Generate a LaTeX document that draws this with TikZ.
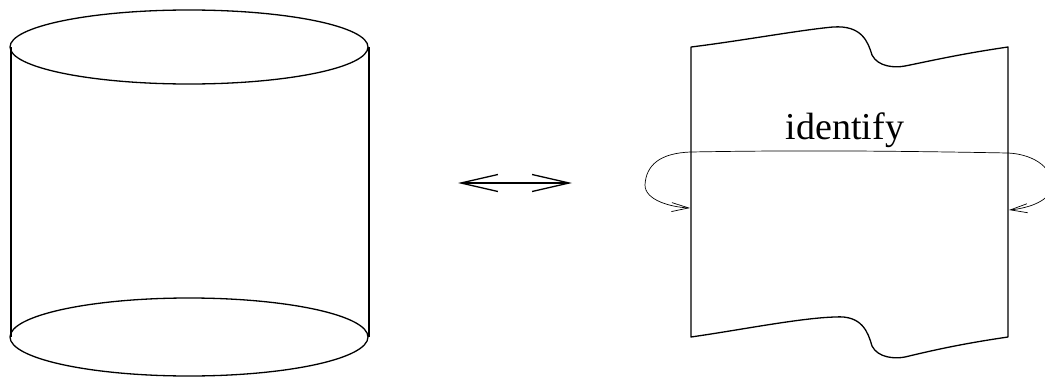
\documentclass[tikz,border=0pt]{standalone}
\usepackage{fontspec}
\setmainfont{Liberation Serif}
\usetikzlibrary{arrows.meta}
\begin{document}
\begin{tikzpicture}[x=1pt,y=-1pt,
  thick line/.style={line width=1.3pt,line join=round},
  thin line/.style={line width=0.7pt},
  bigbarb/.style={-{Straight Barb[length=37pt,width=17pt,line width=1.3pt]}},
  smallbarb/.style={-{Straight Barb[length=17pt,width=9pt,line width=0.7pt]}}]
\useasboundingbox (0,0) rectangle (1045,383);
% cylinder
\draw[thick line] (189,47) ellipse [x radius=179, y radius=37];
\draw[thick line] (189,337) ellipse [x radius=179, y radius=39];
\draw[thick line] (11,47) -- (11,337);
\draw[thick line] (369,47) -- (369,337);
% double arrow
\coordinate (al) at (458,183);
\coordinate (ar) at (572,183);
\draw[thick line,bigbarb] (515,183) -- (al);
\draw[thick line,bigbarb] (515,183) -- (ar);
% sheet
\draw[thick line] (691,47) .. controls (740,41) and (800,30) .. (833,27)
  .. controls (862,25) and (868,42) .. (872,55)
  .. controls (878,67) and (895,68) .. (905,66)
  .. controls (930,61) and (960,54) .. (1008,47)
  -- (1008,337)
  .. controls (960,344) and (930,351) .. (905,357)
  .. controls (895,359) and (878,358) .. (872,346)
  .. controls (868,332) and (862,315) .. (835,317)
  .. controls (800,318) and (740,330) .. (691,337) -- cycle;
% identify loop
\coordinate (tl) at (690,208);
\coordinate (tr) at (1009,210);
\draw[thin line,smallbarb] (691,152) .. controls (660,153) and (646,165) .. (645,185)
  .. controls (645,200) and (670,207) .. (tl);
\draw[thin line] (691,152) .. controls (800,150) and (900,151) .. (1008,153);
\draw[thin line,smallbarb] (1008,153) .. controls (1030,154) and (1052,165) .. (1052,185)
  .. controls (1052,200) and (1030,208) .. (tr);
\node[font=\fontsize{38}{44}\selectfont,anchor=base,inner sep=0pt] (lbl) at (845,139) {identify};
\end{tikzpicture}
\end{document}
